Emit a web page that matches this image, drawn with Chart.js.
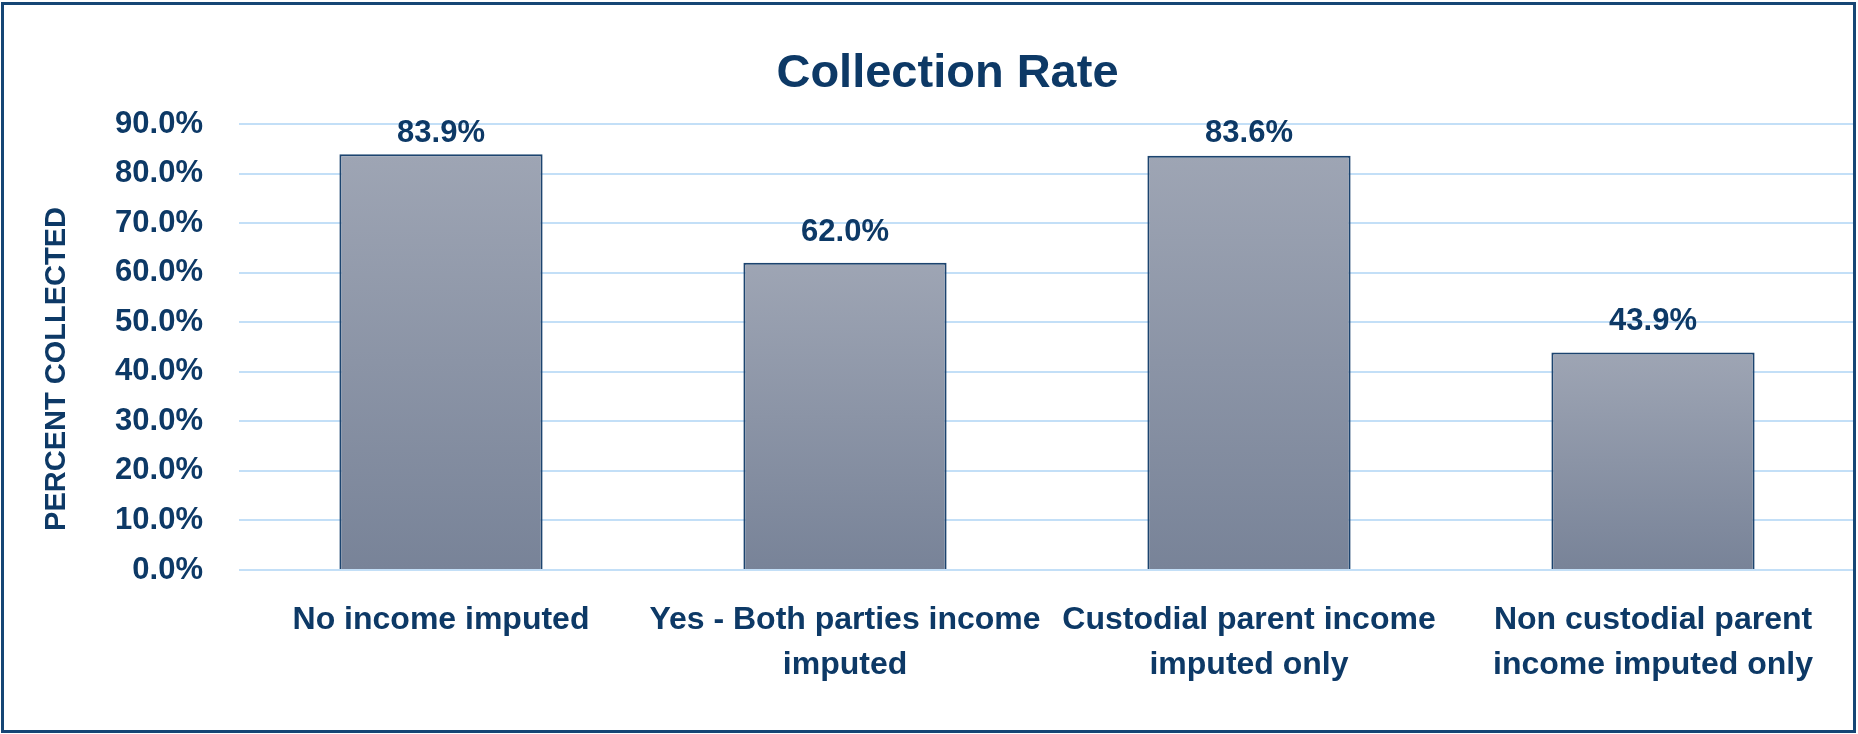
<!DOCTYPE html>
<html>
<head>
<meta charset="utf-8">
<script src="https://cdn.jsdelivr.net/npm/chart.js@4.4.1/dist/chart.umd.min.js"></script>
<style>
  html, body { margin: 0; padding: 0; background: #ffffff; }
  #wrap { width: 1858px; height: 734px; position: relative; }
  canvas { display: block; }
</style>
</head>
<body>
<div id="wrap"><canvas id="c" width="1858" height="734"></canvas></div>
<script>
const chartTitle = 'Collection Rate';
const yAxisTitle = 'PERCENT COLLECTED';
const categories = [
  ['No income imputed'],
  ['Yes - Both parties income', 'imputed'],
  ['Custodial parent income', 'imputed only'],
  ['Non custodial parent', 'income imputed only']
];
const collectionRate = [83.9, 62.0, 83.6, 43.9];
const yTicks = [0, 10, 20, 30, 40, 50, 60, 70, 80, 90];

const NAVY = '#0d3966';
const FONT = "'Liberation Sans', Arial, sans-serif";

const valueLabels = {
  id: 'valueLabels',
  afterDatasetsDraw(chart) {
    const ctx = chart.ctx;
    const meta = chart.getDatasetMeta(0);
    const minBase = chart.chartArea.top + 18;
    ctx.save();
    ctx.font = 'bold 31px ' + FONT;
    ctx.fillStyle = NAVY;
    ctx.textAlign = 'center';
    ctx.textBaseline = 'alphabetic';
    meta.data.forEach((bar, i) => {
      const yb = Math.max(bar.y - 22, minBase);
      ctx.fillText(collectionRate[i].toFixed(1) + '%', bar.x, yb);
    });
    ctx.restore();
  }
};

const yTitle = {
  id: 'yTitle',
  afterDraw(chart) {
    const ctx = chart.ctx;
    ctx.save();
    ctx.translate(57, 369);
    ctx.rotate(-Math.PI / 2);
    ctx.font = 'bold 29px ' + FONT;
    ctx.fillStyle = NAVY;
    ctx.textAlign = 'center';
    ctx.textBaseline = 'middle';
    ctx.fillText(yAxisTitle, 0, 0);
    ctx.restore();
  }
};

const frame = {
  id: 'frame',
  afterDraw(chart) {
    const ctx = chart.ctx;
    ctx.save();
    ctx.strokeStyle = '#164675';
    ctx.lineWidth = 3;
    ctx.strokeRect(2.5, 3.5, 1852, 728);
    ctx.restore();
  }
};

new Chart(document.getElementById('c'), {
  type: 'bar',
  data: {
    labels: categories,
    datasets: [{
      data: collectionRate,
      backgroundColor: (c) => {
        const chart = c.chart;
        const ys = chart.scales && chart.scales.y;
        if (!ys || c.dataIndex === undefined) return '#8a92a5';
        const top = ys.getPixelForValue(collectionRate[c.dataIndex]);
        const base = ys.getPixelForValue(0);
        if (!isFinite(top) || !isFinite(base) || top === base) return '#8a92a5';
        const g = chart.ctx.createLinearGradient(0, top, 0, base);
        g.addColorStop(0, '#9ea5b4');
        g.addColorStop(1, '#788398');
        return g;
      },
      borderColor: '#1c446f',
      borderWidth: 2,
      borderSkipped: 'bottom',
      barPercentage: 0.503,
      categoryPercentage: 1.0
    }]
  },
  options: {
    responsive: false,
    animation: false,
    devicePixelRatio: 1,
    layout: { padding: { left: 40, right: 3, top: 0, bottom: 0 } },
    plugins: {
      legend: { display: false },
      tooltip: { enabled: false },
      title: {
        display: true,
        text: chartTitle,
        color: NAVY,
        font: { family: FONT, size: 47, weight: 'bold', lineHeight: 1.2 },
        padding: { top: 46, bottom: 21.6 }
      }
    },
    scales: {
      x: {
        grid: { display: false, drawTicks: false },
        border: { display: false },
        ticks: {
          color: NAVY,
          font: { family: FONT, size: 32, weight: 'bold', lineHeight: 1.4 },
          padding: 28,
          maxRotation: 0,
          autoSkip: false
        },
        afterFit(scale) { scale.height = 164; }
      },
      y: {
        min: 0,
        max: 90,
        afterBuildTicks(scale) { scale.ticks = yTicks.map(v => ({ value: v })); },
        grid: { color: '#c3dff7', lineWidth: 2, drawTicks: false },
        border: { display: false },
        ticks: {
          color: NAVY,
          font: { family: FONT, size: 31, weight: 'bold', lineHeight: 1.2 },
          padding: 36,
          callback: (v) => Number(v).toFixed(1) + '%'
        },
        afterFit(scale) { scale.width = 199; }
      }
    }
  },
  plugins: [valueLabels, yTitle, frame]
});
</script>
</body>
</html>
